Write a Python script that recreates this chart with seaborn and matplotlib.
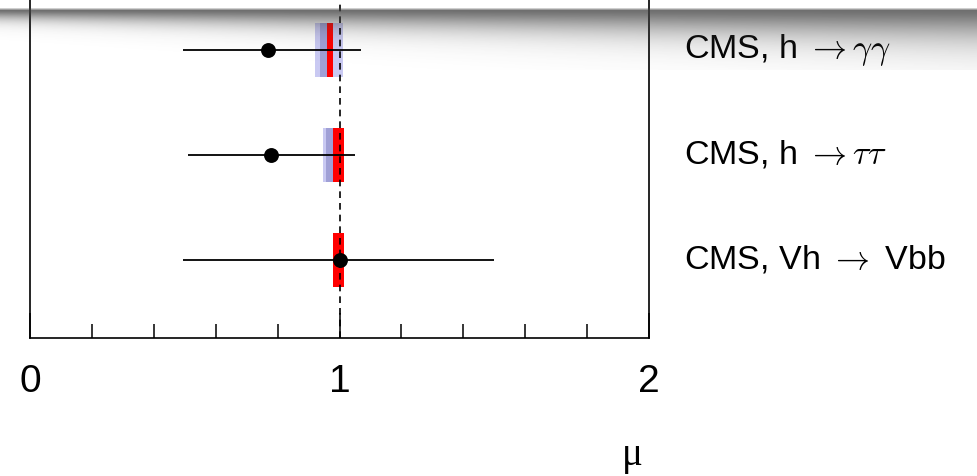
import numpy as np
import matplotlib
matplotlib.use("Agg")
import matplotlib.pyplot as plt
import seaborn as sns

# ---- data ----
labels = [r"CMS, h $\rightarrow\gamma\gamma$",
          r"CMS, h $\rightarrow\tau\tau$",
          r"CMS, Vh $\rightarrow$ Vbb"]
mu = [0.77, 0.78, 1.00]
err_lo = [0.495, 0.51, 0.495]
err_hi = [1.07, 1.05, 1.50]
outer_lo = [0.922, 0.948, np.nan]
outer_hi = [1.010, 1.013, np.nan]
mid_lo = [0.938, 0.955, np.nan]
mid_hi = [0.980, 0.980, np.nan]
red_lo = [0.961, 0.980, 0.980]
red_hi = [0.980, 1.013, 1.013]
xticks_major = [0, 1, 2]
xtick_labels = ["0", "1", "2"]

sns.set_style("ticks")
plt.rcParams["font.family"] = ["Liberation Sans", "DejaVu Sans"]
plt.rcParams["text.color"] = "black"
plt.rcParams["xtick.color"] = "black"
plt.rcParams["mathtext.fontset"] = "cm"

W, H = 977, 476
fig = plt.figure(figsize=(W / 100, H / 100), dpi=100)
ax = fig.add_axes([30 / W, (H - 338) / H, (649 - 30) / W, 366 / H])

ypos = [2, 1, 0]
hh = 0.52
for i in range(3):
    if not np.isnan(outer_lo[i]):
        ax.barh(ypos[i], outer_hi[i] - outer_lo[i], left=outer_lo[i], height=hh,
                color="#c9c9f2", edgecolor="none", zorder=1)
        ax.barh(ypos[i], mid_hi[i] - mid_lo[i], left=mid_lo[i], height=hh,
                color="#a0a0d6", edgecolor="none", zorder=2)
    ax.barh(ypos[i], red_hi[i] - red_lo[i], left=red_lo[i], height=hh,
            color="#ff0000", edgecolor="none", zorder=3)

ax.axvline(1.0, color="black", lw=1.2, ls=(0, (4, 3)), zorder=4)
ax.hlines(ypos, err_lo, err_hi, color="black", lw=1.3, zorder=5)
sns.scatterplot(x=mu, y=ypos, ax=ax, color="black", s=115, edgecolor="black",
                linewidth=0, zorder=6, legend=False)

ax.set_xlim(0, 2)
ax.set_ylim(-0.743, 2.743)
ax.set_yticks([])
ax.set_xticks(xticks_major)
ax.set_xticklabels(xtick_labels, fontsize=28, color="black")
ax.set_xticks(np.arange(0.2, 2.0, 0.2), minor=True)
ax.tick_params(axis="x", which="major", direction="in", length=18, width=1.1, pad=19)
ax.tick_params(axis="x", which="minor", direction="in", length=10, width=1.1)
for s in ["left", "right", "bottom"]:
    ax.spines[s].set_linewidth(1.2)
    ax.spines[s].set_color("black")
ax.spines["top"].set_visible(False)
ax.set_xlabel("")
ax.set_ylabel("")

for i in range(3):
    ax.text((684 - 30) / 309.5, ypos[i], labels[i], fontsize=24.5, va="center",
            ha="left", clip_on=False, color="black")

fig.text(632 / W, 1 - 455 / H, "\u03bc", fontsize=28, ha="center", va="center",
         family=["Liberation Serif", "DejaVu Serif"], color="black")

# page shadow decoration at the top
sh = 70
sax = fig.add_axes([0, 1 - sh / H, 1, sh / H])
yy, xx = np.mgrid[0:sh, 0:W]
f = xx / W
y0 = 10.0
L = 9 + 20 * f
prof = np.where(yy < y0, np.clip((yy - (y0 - 3)) / 3, 0, 1),
                np.exp(-((yy - y0) / L) ** 1.4))
alpha = 0.75 * prof
rgba = np.zeros((sh, W, 4))
rgba[..., :3] = 0.25
rgba[..., 3] = alpha
sax.imshow(rgba, aspect="auto", interpolation="bilinear", extent=(0, W, sh, 0))
sax.set_axis_off()

fig.savefig("out.png", dpi=100)
